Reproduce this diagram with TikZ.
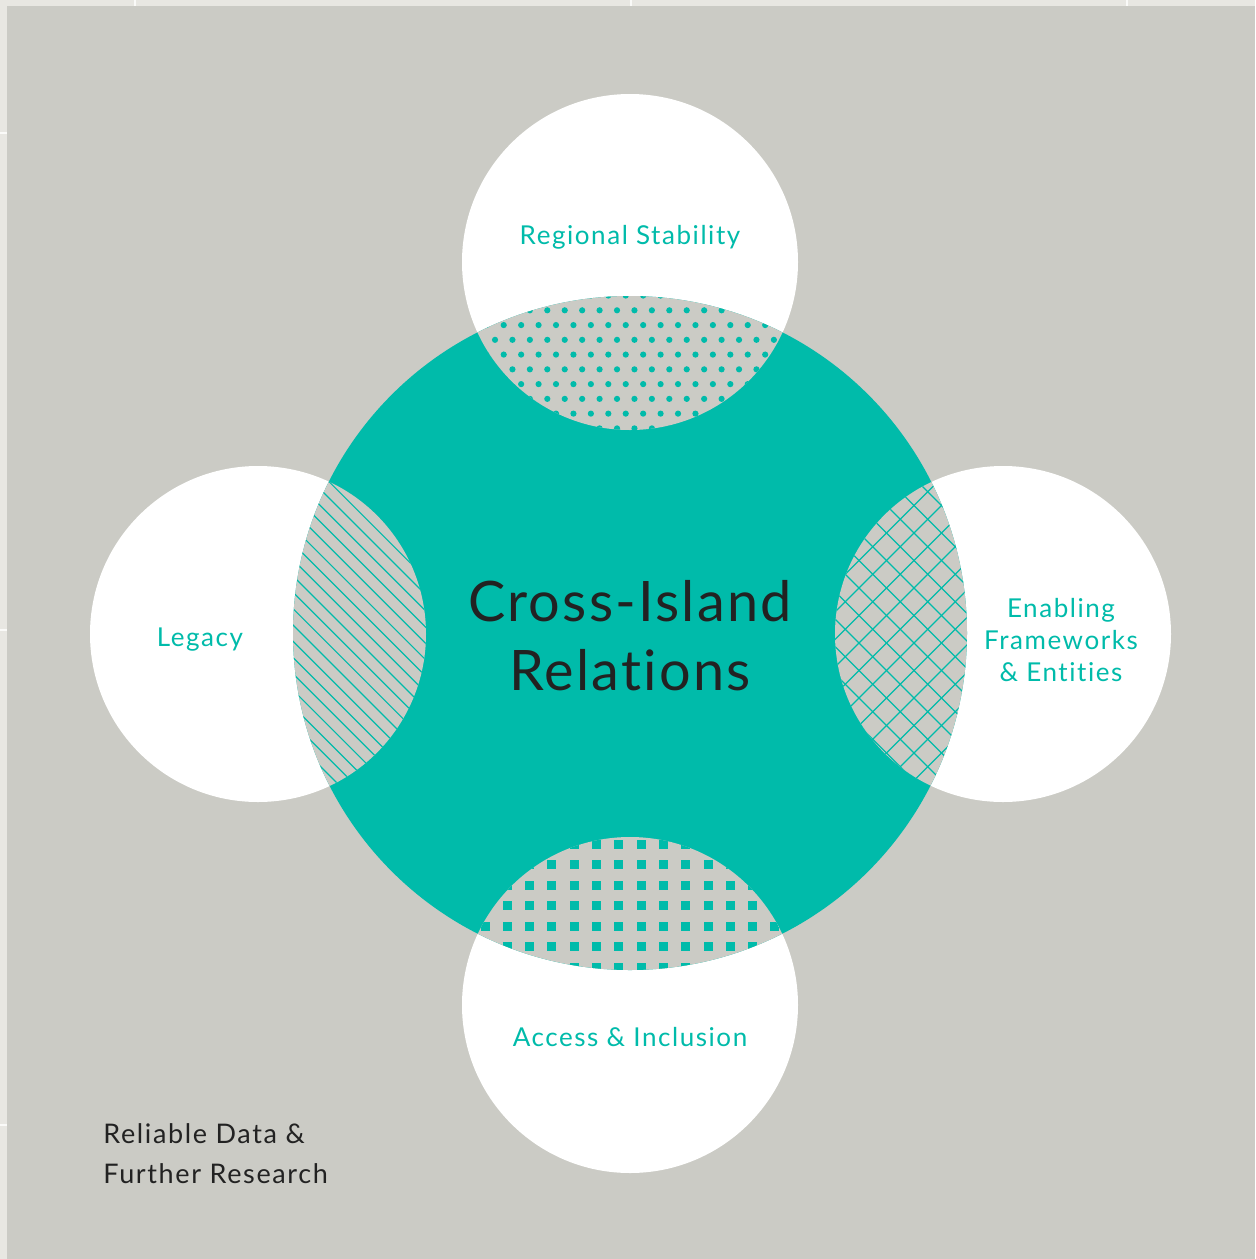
\documentclass[tikz,border=0pt]{standalone}
\usepackage{fontspec}
\setmainfont[Ligatures={NoCommon,NoContextual}]{Lato}
\newfontfamily\titlefont[LetterSpace=4,Ligatures={NoCommon,NoContextual}]{Lato}
\newfontfamily\labelfont[LetterSpace=6,Ligatures={NoCommon,NoContextual}]{Lato}
\newfontfamily\notefont[LetterSpace=6,Ligatures={NoCommon,NoContextual}]{Lato}
\definecolor{tealc}{RGB}{0,187,170}
\definecolor{bgc}{RGB}{203,203,197}
\definecolor{framec}{RGB}{232,231,226}
\definecolor{tickc}{RGB}{250,250,248}
\definecolor{darkc}{RGB}{34,34,34}
\tikzset{
  label teal/.style={text=tealc, inner sep=0pt, font=\labelfont\fontsize{13}{16}\selectfont, align=center},
  title text/.style={text=darkc, inner sep=0pt, font=\titlefont\fontsize{27.9}{34.15}\selectfont, align=center},
  note text/.style={text=darkc, inner sep=0pt, font=\notefont\fontsize{13.5}{20}\selectfont, align=left},
  hatch/.style={draw=tealc, line width=0.6pt},
  tickline/.style={draw=tickc, line width=0.8pt}
}
\begin{document}
\begin{tikzpicture}[x=0.5pt,y=-0.5pt]
\useasboundingbox (0,0) rectangle (1255,1259);
\fill[framec] (0,0) rectangle (1255,1259);
\fill[bgc] (7,6) rectangle (1255,1259);
\foreach \t in {135,631,1127} \draw[tickline] (\t,0) -- (\t,6);
\foreach \t in {133,630,1125} \draw[tickline] (0,\t) -- (7,\t);
% small circles
\fill[white] (630,262) circle (168);
\fill[white] (630,1005) circle (168);
\fill[white] (258,634) circle (168);
\fill[white] (1003,634) circle (168);
% big circle
\fill[tealc] (630,633) circle (337);
% top lens: dots
\begin{scope}
\clip (630,633) circle (337);
\clip (630,262) circle (168);
\fill[bgc] (440,80) rectangle (820,450);
\foreach \j in {0,...,10} \foreach \i in {0,...,21}
  \fill[tealc] ({460.15+8.715*mod(\j+1,2)+17.43*\i},{295.54+14.76*\j}) circle (3.1);
\end{scope}
% bottom lens: squares
\begin{scope}
\clip (630,633) circle (337);
\clip (630,1005) circle (168);
\fill[bgc] (440,820) rectangle (820,1190);
\foreach \j in {0,...,8} \foreach \i in {0,...,17}
  \fill[tealc] ({440.45+22.3*\i-4.5},{823.5+20.5*\j-4.5}) rectangle ++(9,9);
\end{scope}
% left lens: single hatch
\begin{scope}
\clip (630,633) circle (337);
\clip (258,634) circle (168);
\fill[bgc] (270,450) rectangle (450,820);
\foreach \k in {-16,...,15}
  \draw[hatch] ({-266.7+16.3*\k+460},460) -- ({-266.7+16.3*\k+810},810);
\end{scope}
% right lens: crosshatch
\begin{scope}
\clip (630,633) circle (337);
\clip (1003,634) circle (168);
\fill[bgc] (810,450) rectangle (990,820);
\foreach \k in {-10,...,9}
  \draw[hatch] ({271+27.5*\k+460},460) -- ({271+27.5*\k+810},810);
\foreach \m in {-7,...,12}
  \draw[hatch] ({1474.4+27.5*\m-460},460) -- ({1474.4+27.5*\m-810},810);
\end{scope}
% texts (base anchor = last line's baseline)
\node[title text, anchor=base] (title) at (630,690) {Cross-Island\\Relations};
\node[label teal, anchor=base] (rs) at (630,244.5) {Regional Stability};
\node[label teal, anchor=base] (lg) at (200,646) {Legacy};
\node[label teal, anchor=base] (ef) at (1061,681) {Enabling\\Frameworks\\\& Entities};
\node[label teal, anchor=base] (ai) at (630,1046.5) {Access \& Inclusion};
\node[note text, anchor=base west] (rd) at (103,1183) {Reliable Data \&\\Further Research};
\end{tikzpicture}
\end{document}
